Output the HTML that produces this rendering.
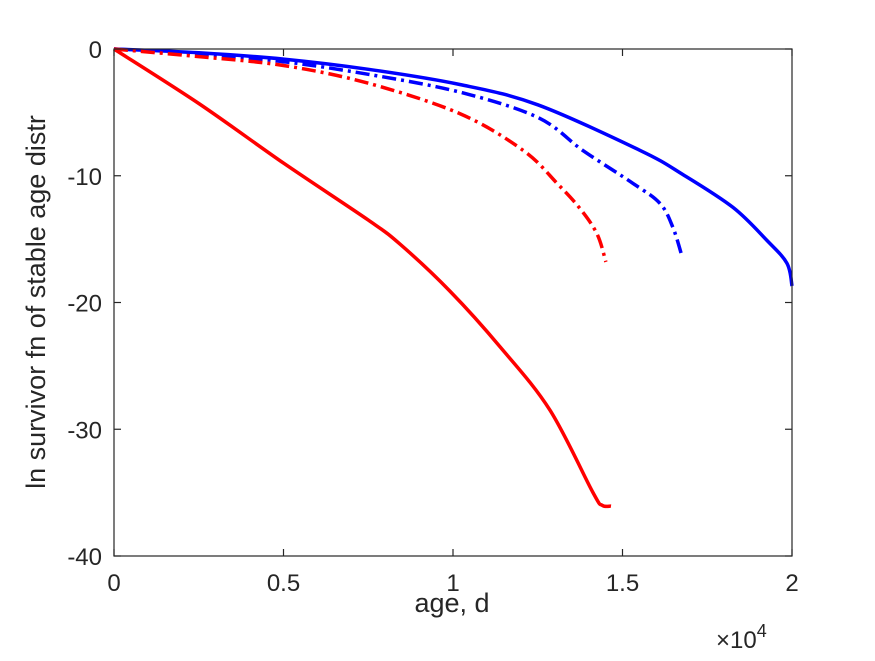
<!DOCTYPE html>
<html><head><meta charset="utf-8"><style>
body{margin:0;background:#fff;}
svg text{font-family:"Liberation Sans",sans-serif;fill:#262626;}
</style></head><body>
<svg id="chart" width="875" height="656" xmlns="http://www.w3.org/2000/svg">
<rect width="875" height="656" fill="#fff"/>
<g id="plot"></g>
<g id="axes"></g>
<text x="452" y="612" font-size="27" text-anchor="middle">age, d</text>
<text transform="translate(45,302) rotate(-90)" font-size="27" text-anchor="middle">ln survivor fn of stable age distr</text>
<text x="716" y="648" font-size="24">×10<tspan dy="-11" font-size="18">4</tspan></text>
</svg>
<script>
const xTicks=[0,0.5,1,1.5,2];
const xTickLabels=["0","0.5","1","1.5","2"];
const yTicks=[0,-10,-20,-30,-40];
const yTickLabels=["0","-10","-20","-30","-40"];
const redSolidX=[0,0.25,0.5,0.75,0.844,0.991,1.139,1.286,1.413,1.44,1.466];
const redSolidY=[0,-4.3,-9.0,-13.5,-15.4,-19.1,-23.5,-28.5,-35,-36,-36.06];
const redDashX=[0,0.25,0.5,0.75,1.02,1.207,1.307,1.375,1.425,1.451];
const redDashY=[0,-0.6,-1.3,-2.7,-5.1,-8.0,-10.6,-12.6,-14.6,-16.8];
const blueDashX=[0,0.25,0.5,0.75,1.02,1.25,1.383,1.531,1.611,1.649,1.676];
const blueDashY=[0,-0.4,-1.0,-2.0,-3.4,-5.4,-8.0,-10.6,-12.2,-14.1,-16.4];
const blueSolidX=[0,0.25,0.5,0.75,1.02,1.25,1.552,1.678,1.826,1.926,1.985,2.0];
const blueSolidY=[0,-0.3,-0.8,-1.6,-2.8,-4.4,-8.0,-9.9,-12.5,-15.1,-16.9,-18.7];
const L=114,R=792,T=49,B=556;
const sx=v=>L+(v-0)/(2-0)*(R-L);
const sy=v=>T+(0-v)/(40)*(B-T);
const NS="http://www.w3.org/2000/svg";
const plot=document.getElementById('plot'),axes=document.getElementById('axes');
function mk(tag,attrs,parent){const e=document.createElementNS(NS,tag);for(const k in attrs)e.setAttribute(k,attrs[k]);parent.appendChild(e);return e;}
function smoothPath(xs,ys){
  const P=xs.map((x,i)=>[sx(x),sy(ys[i])]);
  let d='M'+P[0][0].toFixed(1)+','+P[0][1].toFixed(1);
  for(let i=0;i<P.length-1;i++){
    const p0=P[Math.max(0,i-1)],p1=P[i],p2=P[i+1],p3=P[Math.min(P.length-1,i+2)];
    const c1=[p1[0]+(p2[0]-p0[0])/6,p1[1]+(p2[1]-p0[1])/6];
    const c2=[p2[0]-(p3[0]-p1[0])/6,p2[1]-(p3[1]-p1[1])/6];
    d+=' C'+c1[0].toFixed(1)+','+c1[1].toFixed(1)+' '+c2[0].toFixed(1)+','+c2[1].toFixed(1)+' '+p2[0].toFixed(1)+','+p2[1].toFixed(1);
  }
  return d;
}
function line(xs,ys,color,dash,name){
  const p=mk('path',{d:smoothPath(xs,ys),fill:'none',stroke:color,'stroke-width':3.5,'stroke-linejoin':'round'},plot);
  if(dash)p.setAttribute('stroke-dasharray',dash);
  
  
}
line(blueSolidX,blueSolidY,'#0000ff',null,'series-blue-solid');
line(blueDashX,blueDashY,'#0000ff','14,5,3,5','series-blue-dashdot');
line(redDashX,redDashY,'#ff0000','14,5,3,5','series-red-dashdot');
line(redSolidX,redSolidY,'#ff0000',null,'series-red-solid');
const box=mk('rect',{x:L,y:T,width:R-L,height:B-T,fill:'none',stroke:'#262626','stroke-width':1.2},axes);


xTicks.forEach((v,i)=>{
  const x=sx(v);
  mk('line',{x1:x,y1:B,x2:x,y2:B-7,stroke:'#262626','stroke-width':1.2},axes);
  mk('line',{x1:x,y1:T,x2:x,y2:T+7,stroke:'#262626','stroke-width':1.2},axes);
  const t=mk('text',{x:x,y:B+35,'font-size':24,'text-anchor':'middle'},axes);
  t.textContent=xTickLabels[i];
  
  
});
yTicks.forEach((v,i)=>{
  const y=sy(v);
  mk('line',{x1:L,y1:y,x2:L+7,y2:y,stroke:'#262626','stroke-width':1.2},axes);
  mk('line',{x1:R,y1:y,x2:R-7,y2:y,stroke:'#262626','stroke-width':1.2},axes);
  const t=mk('text',{x:L-12,y:y+9,'font-size':24,'text-anchor':'end'},axes);
  t.textContent=yTickLabels[i];
  
  
});
</script>
</body></html>
